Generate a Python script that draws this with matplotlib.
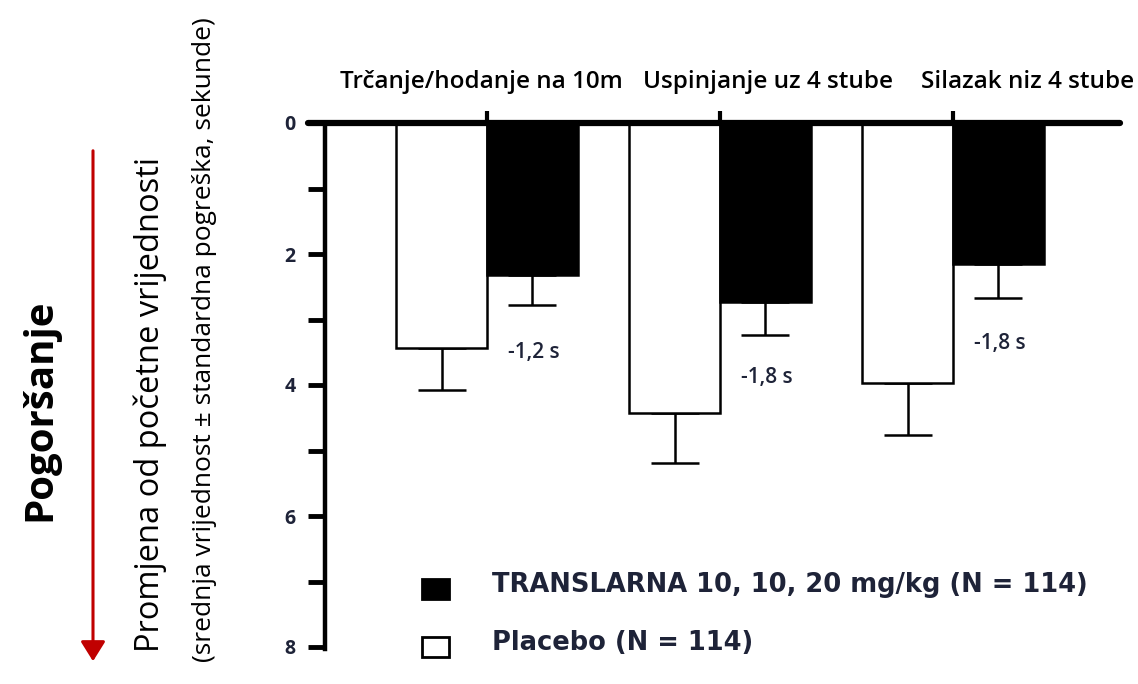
import matplotlib
matplotlib.use("Agg")
import matplotlib.pyplot as plt
from matplotlib.patches import Rectangle, FancyArrowPatch
import numpy as np

# ---- data ----
categories = ["Trčanje/hodanje na 10m", "Uspinjanje uz 4 stube", "Silazak niz 4 stube"]
placebo_mean = [3.44, 4.43, 3.97]
placebo_se = [0.64, 0.76, 0.79]
drug_mean = [2.32, 2.73, 2.15]
drug_se = [0.46, 0.51, 0.52]
diff_labels = ["-1,2 s", "-1,8 s", "-1,8 s"]
diff_y = [3.51, 3.89, 3.36]
ytick_values = [0, 1, 2, 3, 4, 5, 6, 7, 8]
ytick_labels = ["0", "", "2", "", "4", "", "6", "", "8"]
legend_labels = ["TRANSLARNA 10, 10, 20 mg/kg (N = 114)", "Placebo (N = 114)"]
legend_colors = ["black", "white"]
ylab_main = "Pogoršanje"
ylab_1 = "Promjena od početne vrijednosti"
ylab_2 = "(srednja vrijednost ± standardna pogreška, sekunde)"

W, H = 1138, 684
fig = plt.figure(figsize=(W / 100, H / 100), dpi=100)
fig.patch.set_facecolor("white")

def fx(px):
    return px / W

def fy(py):
    return 1 - py / H

ax = fig.add_axes([fx(325), fy(647), fx(1120) - fx(325), fy(123) - fy(647)])
x = np.arange(1, len(categories) + 1)
w = 0.39

ax.bar(x - w / 2, placebo_mean, width=w, color="white", edgecolor="black", linewidth=1.8, zorder=2)
ax.bar(x + w / 2, drug_mean, width=w, color="black", edgecolor="black", linewidth=1.8, zorder=2)
ax.errorbar(x - w / 2, placebo_mean, yerr=[np.zeros(3), placebo_se], fmt="none",
            ecolor="black", elinewidth=1.8, capsize=17, capthick=1.8, zorder=1)
ax.errorbar(x + w / 2, drug_mean, yerr=[np.zeros(3), drug_se], fmt="none",
            ecolor="black", elinewidth=1.8, capsize=17, capthick=1.8, zorder=1)

ax.set_xlim(0.305, 3.717)
ax.set_ylim(8, 0)

for s in ["right", "bottom"]:
    ax.spines[s].set_visible(False)
ax.spines["top"].set_linewidth(4.5)
ax.spines["top"].set_bounds(0.232, 3.717)
ax.spines["top"].set_capstyle("round")
ax.spines["left"].set_linewidth(3.2)
ax.spines["left"].set_bounds(0, 8.03)

ax.xaxis.tick_top()
ax.set_xticks(x)
ax.set_xticklabels([])
ax.tick_params(axis="x", direction="out", length=9, width=3, pad=2)
ax.set_yticks(ytick_values)
ax.set_yticklabels(ytick_labels, fontsize=14, fontweight="bold", color="#1e2338", family="Open Sans")
ax.tick_params(axis="y", direction="out", length=12, width=3.5, pad=9)

label_x = [0.974, 2.206, 3.322]
for lx, c in zip(label_x, categories):
    ax.text(lx, -0.63, c, ha="center", va="center", fontsize=17.5, fontweight="semibold",
            family="Open Sans", clip_on=False)

for xi, lab, yy in zip(x, diff_labels, diff_y):
    ax.text(xi + 0.2, yy, lab, ha="center", va="center", fontsize=15, fontweight="semibold",
            family="Open Sans", color="#1e2338")

# y-axis annotations
fig.text(fx(40), fy(410), ylab_main, rotation=90, ha="center", va="center",
         fontsize=29, fontweight="bold", family="Open Sans")
fig.text(fx(150), fy(404), ylab_1, rotation=90, ha="center", va="center",
         fontsize=23.5, family="Open Sans")
fig.text(fx(205), fy(340), ylab_2, rotation=90, ha="center", va="center",
         fontsize=19, family="Open Sans")
arr = FancyArrowPatch((fx(93), fy(148)), (fx(93), fy(664)), transform=fig.transFigure,
                      arrowstyle="-|>,head_length=8,head_width=5", color="#c00000",
                      linewidth=2.2, mutation_scale=1.5)
fig.patches.append(arr)

# legend
legend_y = [589, 647]
for lab, col, ly in zip(legend_labels, legend_colors, legend_y):
    fig.patches.append(Rectangle((fx(422), fy(ly + 10)), fx(449) - fx(422), (fy(ly - 10) - fy(ly + 10)),
                                 transform=fig.transFigure, facecolor=col, edgecolor="black",
                                 linewidth=2))
    fig.text(fx(492), fy(ly - 4), lab, ha="left", va="center", fontsize=18.5,
             fontweight="bold", family="DejaVu Sans", color="#1e2338")

fig.savefig("out.png", dpi=100)
